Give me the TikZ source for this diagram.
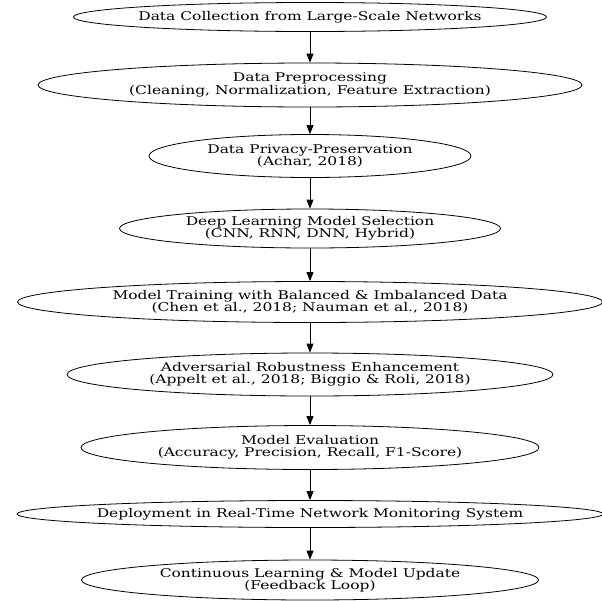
\documentclass[tikz,border=0pt]{standalone}
\usepackage{fontspec}
\setmainfont{DejaVu Serif}[FakeStretch = 1.29]
\usetikzlibrary{shapes.geometric, arrows.meta}

\begin{document}
\begin{tikzpicture}[x = 1pt, y = 1pt,
stage/.style = {draw, ellipse, line width = 0.8pt, inner xsep = -10pt, inner ysep = 0pt, align = center, font = \fontsize{12}{12.5}\selectfont},
flow/.style = {line width = 0.8pt, -{Triangle[length = 9pt, width = 7pt]}}]
\useasboundingbox (0,0) rectangle (602,-600);
\node[stage, minimum width = 473pt, minimum height = 29pt](collect) at (310,-17){Data Collection from Large-Scale Networks};
\node[stage, minimum width = 544pt, minimum height = 44pt](prep) at (310,-85){Data Preprocessing\\(Cleaning, Normalization, Feature Extraction)};
\node[stage, minimum width = 322pt, minimum height = 43pt](privacy) at (310,-156){Data Privacy-Preservation\\(Achar, 2018)};
\node[stage, minimum width = 381pt, minimum height = 39pt](select) at (310,-228.5){Deep Learning Model Selection\\(CNN, RNN, DNN, Hybrid)};
\node[stage, minimum width = 585pt, minimum height = 41pt](train) at (310,-302){Model Training with Balanced \& Imbalanced Data\\(Chen et al., 2018; Nauman et al., 2018)};
\node[stage, minimum width = 486pt, minimum height = 43pt](robust) at (310,-374.5){Adversarial Robustness Enhancement\\(Appelt et al., 2018; Biggio \& Roli, 2018)};
\node[stage, minimum width = 458pt, minimum height = 44pt](eval) at (310,-447.5){Model Evaluation\\(Accuracy, Precision, Recall, F1-Score)};
\node[stage, minimum width = 586pt, minimum height = 27pt](deploy) at (310,-514){Deployment in Real-Time Network Monitoring System};
\node[stage, minimum width = 457pt, minimum height = 40pt](update) at (310,-580){Continuous Learning \& Model Update\\(Feedback Loop)};
\foreach \i/\j in {
collect/prep, prep/privacy, privacy/select, select/train, train/robust, robust/eval, eval/deploy, deploy/update}{
\draw[flow] (\i) -- (\j);
}
\end{tikzpicture}
\end{document}
